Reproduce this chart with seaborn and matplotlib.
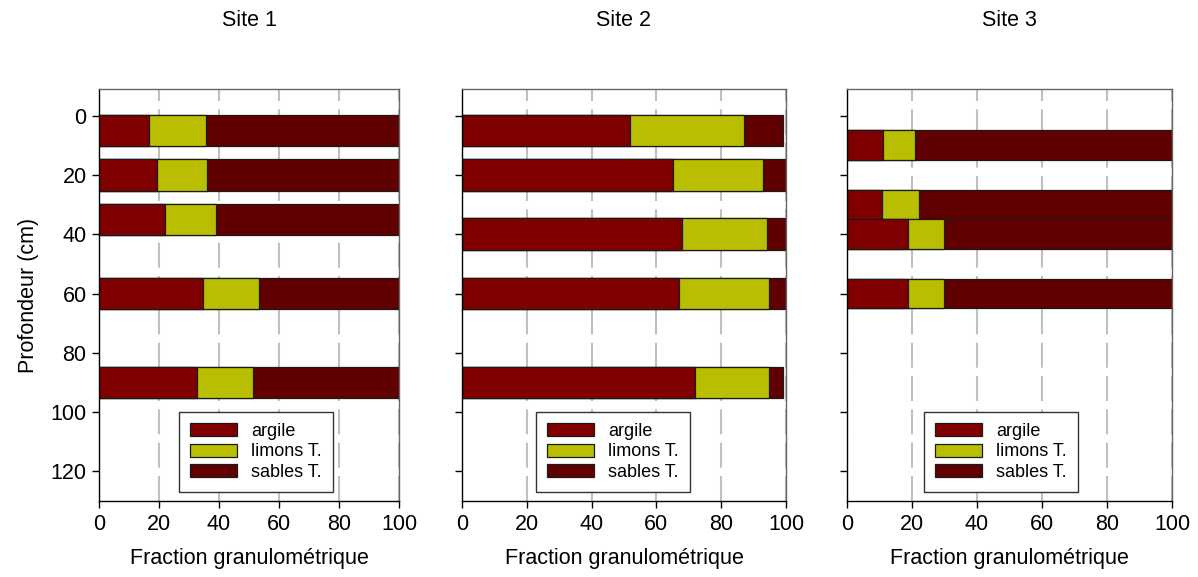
import numpy as np
import pandas as pd
import matplotlib
matplotlib.use("Agg")
import matplotlib.pyplot as plt
import seaborn as sns

# depth (cm, bar centre) and fractions (%) per site
site1_depth = [5, 20, 35, 60, 90]
site1_argile = [16.5, 19.3, 22.1, 34.6, 32.8]
site1_limons = [19.0, 16.7, 16.9, 18.7, 18.4]
site1_sables = [64.5, 64.0, 61.0, 46.7, 48.8]

site2_depth = [5, 20, 40, 60, 90]
site2_argile = [52.0, 65.0, 68.0, 67.1, 72.0]
site2_limons = [34.9, 28.0, 26.0, 27.8, 22.9]
site2_sables = [12.2, 7.0, 6.0, 5.1, 4.2]

site3_depth = [10, 30, 40, 60]
site3_argile = [11.0, 10.8, 18.9, 18.9]
site3_limons = [9.9, 11.3, 10.9, 10.9]
site3_sables = [79.1, 77.9, 70.2, 70.2]

site_names = ["Site 1", "Site 2", "Site 3"]
fraction_names = ["argile", "limons T.", "sables T."]
colors = ["#800000", "#b9bf00", "#600000"]

sites = [
    (site1_depth, site1_argile, site1_limons, site1_sables, 10.7),
    (site2_depth, site2_argile, site2_limons, site2_sables, 10.7),
    (site3_depth, site3_argile, site3_limons, site3_sables, 10.0),
]

sns.set_style("ticks")
plt.rcParams["font.family"] = ["Liberation Sans", "DejaVu Sans"]
plt.rcParams["text.color"] = "black"
plt.rcParams["axes.labelcolor"] = "black"
plt.rcParams["xtick.color"] = "black"
plt.rcParams["ytick.color"] = "black"
plt.rcParams["xtick.direction"] = "out"
plt.rcParams["ytick.direction"] = "out"

fig = plt.figure(figsize=(11.98, 5.77), dpi=100)

W, H = 1198, 577
boxes = [(99, 300), (462, 324), (847, 325)]
legend_x = [0.523, 0.466, 0.474]
ax_bottom = (H - 501) / H
ax_height = 412 / H

for i, (depth, argile, limons, sables, bar_h) in enumerate(sites):
    left, width = boxes[i]
    ax = fig.add_axes([left / W, ax_bottom, width / W, ax_height])

    df = pd.DataFrame({"depth": depth, "argile": argile,
                       "limons": limons, "sables": sables})
    df["c1"] = df["argile"]
    df["c2"] = df["argile"] + df["limons"]
    df["c3"] = df["c2"] + df["sables"]

    bw = bar_h / np.diff(np.sort(df["depth"])).min()

    # stacked bars: draw cumulative totals from the back
    for col, color, name in zip(["c3", "c2", "c1"], colors[::-1], fraction_names[::-1]):
        sns.barplot(data=df, x=col, y="depth", orient="h", native_scale=True,
                    width=bw, color=color, saturation=1, edgecolor="#1a1a1a",
                    linewidth=0.9, label=name, ax=ax, errorbar=None)

    ax.set_xlim(0, 100)
    ax.set_ylim(130, -9)
    ax.set_xticks([0, 20, 40, 60, 80, 100])
    ax.set_yticks([0, 20, 40, 60, 80, 100, 120])
    ax.xaxis.grid(True, linestyle=(0, (12, 4)), color="#c0c0c0", linewidth=1.5)
    ax.yaxis.grid(False)
    ax.set_axisbelow(True)
    ax.tick_params(labelsize=15.5, length=5, width=1, color="black", pad=4)
    for s in ["left", "bottom"]:
        ax.spines[s].set_color("black")
        ax.spines[s].set_linewidth(1)
    for s in ["top", "right"]:
        ax.spines[s].set_visible(True)
        ax.spines[s].set_color("#666666")
        ax.spines[s].set_linewidth(1)

    ax.set_xlabel("Fraction granulométrique", fontsize=15.5, labelpad=10)
    if i == 0:
        ax.set_ylabel("Profondeur (cm)", fontsize=15.5, labelpad=8)
    else:
        ax.set_ylabel("")
        ax.set_yticklabels([])

    handles, labels = ax.get_legend_handles_labels()
    order = [labels.index(n) for n in fraction_names]
    leg = ax.legend([handles[k] for k in order], fraction_names,
                    loc="lower center", bbox_to_anchor=(legend_x[i], 0.022),
                    fontsize=13, frameon=True, fancybox=False,
                    edgecolor="#333333", handlelength=2.6, handleheight=0.75,
                    handletextpad=0.8, labelspacing=0.2, borderpad=0.6,
                    borderaxespad=0)
    leg.get_frame().set_linewidth(1)
    leg.get_frame().set_alpha(1)

    fig.text((left + width / 2) / W, 1 - 20 / H, site_names[i],
             ha="center", va="center", fontsize=15.5)

fig.savefig("out.png", dpi=100)
